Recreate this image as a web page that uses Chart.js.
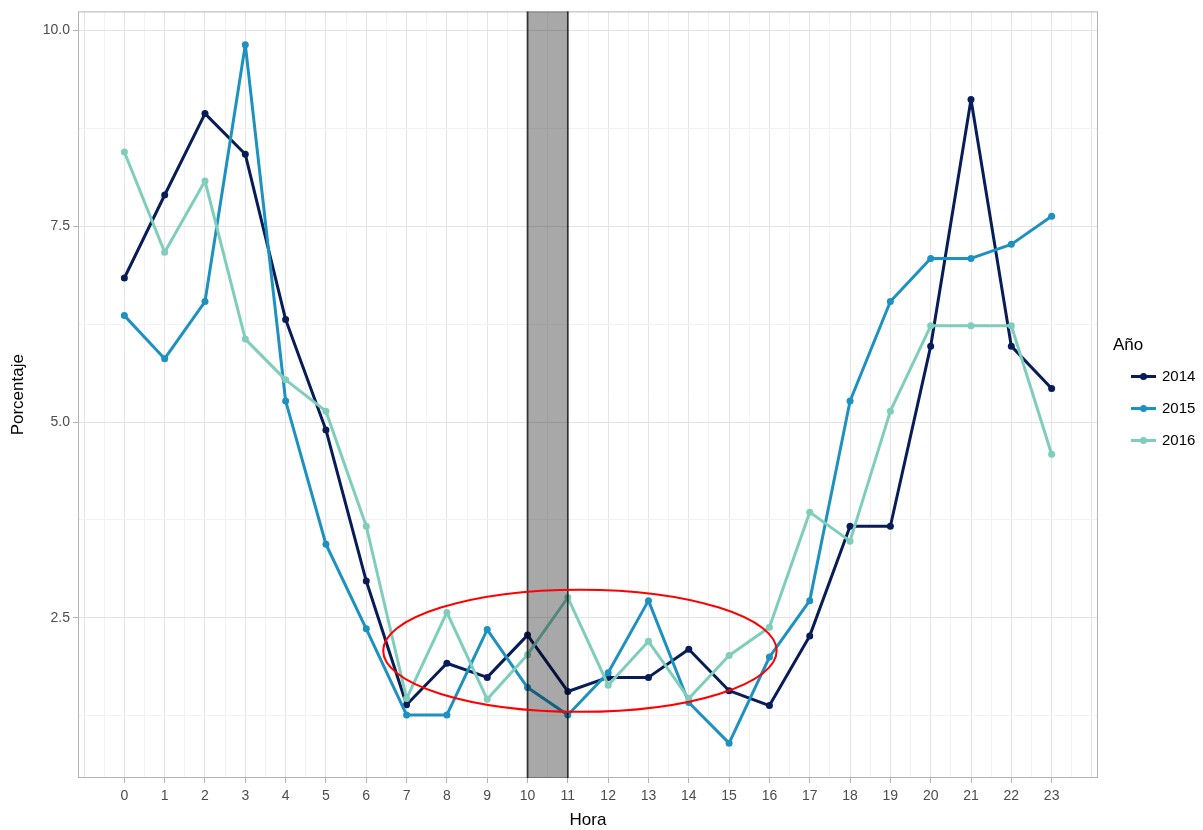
<!DOCTYPE html>
<html><head><meta charset="utf-8">
<script src="https://cdn.jsdelivr.net/npm/chart.js@4.4.0/dist/chart.umd.min.js"></script>
<style>
html,body{margin:0;padding:0;background:#fff;}
#wrap{position:relative;width:1203px;height:830px;}
#legend{position:absolute;left:0;top:0;font-family:'Liberation Sans',Arial,sans-serif;color:#000;}
.lt{position:absolute;font-size:17px;line-height:20px;}
.li{position:absolute;font-size:15px;line-height:18px;}
.ln{position:absolute;height:3px;width:25px;}
.dt{position:absolute;width:7px;height:7px;border-radius:50%;}
</style></head><body>
<div id="wrap"><canvas id="c"></canvas><div id="legend"></div></div>
<script>
const hours = [0,1,2,3,4,5,6,7,8,9,10,11,12,13,14,15,16,17,18,19,20,21,22,23];
const seriesNames = ['2014','2015','2016'];
const y2014 = [6.84,7.90,8.94,8.42,6.31,4.90,2.97,1.39,1.92,1.74,2.28,1.56,1.74,1.74,2.10,1.57,1.38,2.27,3.67,3.67,5.97,9.12,5.97,5.43];
const y2015 = [6.36,5.81,6.54,9.82,5.27,3.44,2.36,1.26,1.26,2.35,1.61,1.26,1.80,2.72,1.42,0.90,2.00,2.72,5.27,6.54,7.09,7.09,7.27,7.63];
const y2016 = [8.45,7.17,8.08,6.06,5.54,5.14,3.67,1.47,2.57,1.46,2.03,2.76,1.64,2.20,1.47,2.02,2.38,3.85,3.48,5.14,6.23,6.23,6.23,4.59];
const yTickLabels = [2.5,5.0,7.5,10.0];
const xTickLabels = hours;
const colors = ['#081d58','#1d91c0','#7fcdbb'];
const allSeries = [y2014,y2015,y2016];

const shadeFrom = 10, shadeTo = 11;
const ell = {cx:11.3, cy:2.08, rx:4.88, ry:0.78};

const datasets = allSeries.map((s,i)=>({
  label: seriesNames[i],
  data: hours.map((h,j)=>({x:h,y:s[j]})),
  borderColor: colors[i], backgroundColor: colors[i],
  borderWidth: 3, pointRadius: 3.5, pointHoverRadius: 3.5, pointBorderWidth: 0,
  borderJoinStyle: 'round', borderCapStyle: 'round',
  tension: 0, order: 3-i
}));

const FONT = "'Liberation Sans', Arial, sans-serif";
const isMajorX = v => xTickLabels.includes(v);
const isMajorY = v => yTickLabels.some(t=>Math.abs(t-v)<1e-6);

const decor = {
  id:'decor',
  beforeDatasetsDraw(chart){
    const {ctx, chartArea:a} = chart;
    ctx.save();
    ctx.strokeStyle = '#b3b3b3'; ctx.lineWidth = 1;
    ctx.strokeRect(a.left+0.5, a.top+0.5, a.right-a.left-1, a.bottom-a.top-1);
    ctx.restore();
  },
  afterDatasetsDraw(chart){
    const {ctx, chartArea:a, scales:{x,y}} = chart;
    ctx.save();
    const x0 = x.getPixelForValue(shadeFrom), x1 = x.getPixelForValue(shadeTo);
    ctx.fillStyle = 'rgba(0,0,0,0.34)';
    ctx.fillRect(x0, a.top, x1-x0, a.bottom-a.top);
    ctx.strokeStyle = 'rgba(0,0,0,0.72)'; ctx.lineWidth = 1.8;
    ctx.beginPath(); ctx.moveTo(x0,a.top); ctx.lineTo(x0,a.bottom);
    ctx.moveTo(x1,a.top); ctx.lineTo(x1,a.bottom); ctx.stroke();
    const cx = x.getPixelForValue(ell.cx), cy = y.getPixelForValue(ell.cy);
    const rx = Math.abs(x.getPixelForValue(ell.cx+ell.rx)-cx);
    const ry = Math.abs(y.getPixelForValue(ell.cy+ell.ry)-cy);
    ctx.strokeStyle = '#ff0000'; ctx.lineWidth = 2;
    ctx.beginPath(); ctx.ellipse(cx,cy,rx,ry,0,0,Math.PI*2); ctx.stroke();
    ctx.restore();
  }
};

new Chart(document.getElementById('c'), {
  type:'line',
  data:{datasets},
  plugins:[decor],
  options:{
    responsive:true, maintainAspectRatio:false, animation:false,
    layout:{padding:{left:0,right:105,top:9,bottom:0}},
    plugins:{legend:{display:false}, tooltip:{enabled:false}},
    scales:{
      x:{
        type:'linear', min:-1.15, max:24.15,
        afterBuildTicks(s){ const t=[]; for(let v=-1; v<=24; v+=0.5) t.push({value:v}); s.ticks=t; },
        afterFit(s){ s.height = 52; },
        border:{display:false},
        grid:{
          color: c => (c.tick && Number.isInteger(c.tick.value)) ? '#e4e4e4' : '#f2f2f2',
          lineWidth: 1,
          tickColor: c => (c.tick && isMajorX(c.tick.value)) ? '#b3b3b3' : 'rgba(0,0,0,0)',
          tickLength: 5, drawTicks:true
        },
        ticks:{autoSkip:false, maxRotation:0, padding:5, color:'#4d4d4d',
          font:{family:FONT,size:14},
          callback: v => isMajorX(v) ? String(v) : ''},
        title:{display:true, text:'Hora', color:'#000', font:{family:FONT,size:17,lineHeight:1.1}, padding:{top:0,bottom:0}}
      },
      y:{
        type:'linear', min:0.455, max:10.245,
        afterBuildTicks(s){ const t=[]; for(let v=1.25; v<=10.001; v+=1.25) t.push({value:v}); s.ticks=t; },
        afterFit(s){ s.width = 78; },
        border:{display:false},
        grid:{
          color: c => (c.tick && isMajorY(c.tick.value)) ? '#e4e4e4' : '#f2f2f2',
          lineWidth: 1,
          tickColor: c => (c.tick && isMajorY(c.tick.value)) ? '#b3b3b3' : 'rgba(0,0,0,0)',
          tickLength: 5, drawTicks:true
        },
        ticks:{autoSkip:false, padding:3, color:'#4d4d4d',
          font:{family:FONT,size:14},
          callback: v => isMajorY(v) ? v.toFixed(1) : ''},
        title:{display:true, text:'Porcentaje', color:'#000', font:{family:FONT,size:17}, padding:{top:8,bottom:0}}
      }
    }
  }
});

// legend
const lg = document.getElementById('legend');
let html = '<div class="lt" style="left:1113px;top:335px;">Año</div>';
seriesNames.forEach((n,i)=>{
  const cy = 376 + i*32;
  html += `<div class="ln" style="left:1131px;top:${cy-1.5}px;background:${colors[i]}"></div>`;
  html += `<div class="dt" style="left:${1143.5-3.5}px;top:${cy-3.5}px;background:${colors[i]}"></div>`;
  html += `<div class="li" style="left:1162px;top:${cy-9}px;">${n}</div>`;
});
lg.innerHTML = html;
</script>
</body></html>
